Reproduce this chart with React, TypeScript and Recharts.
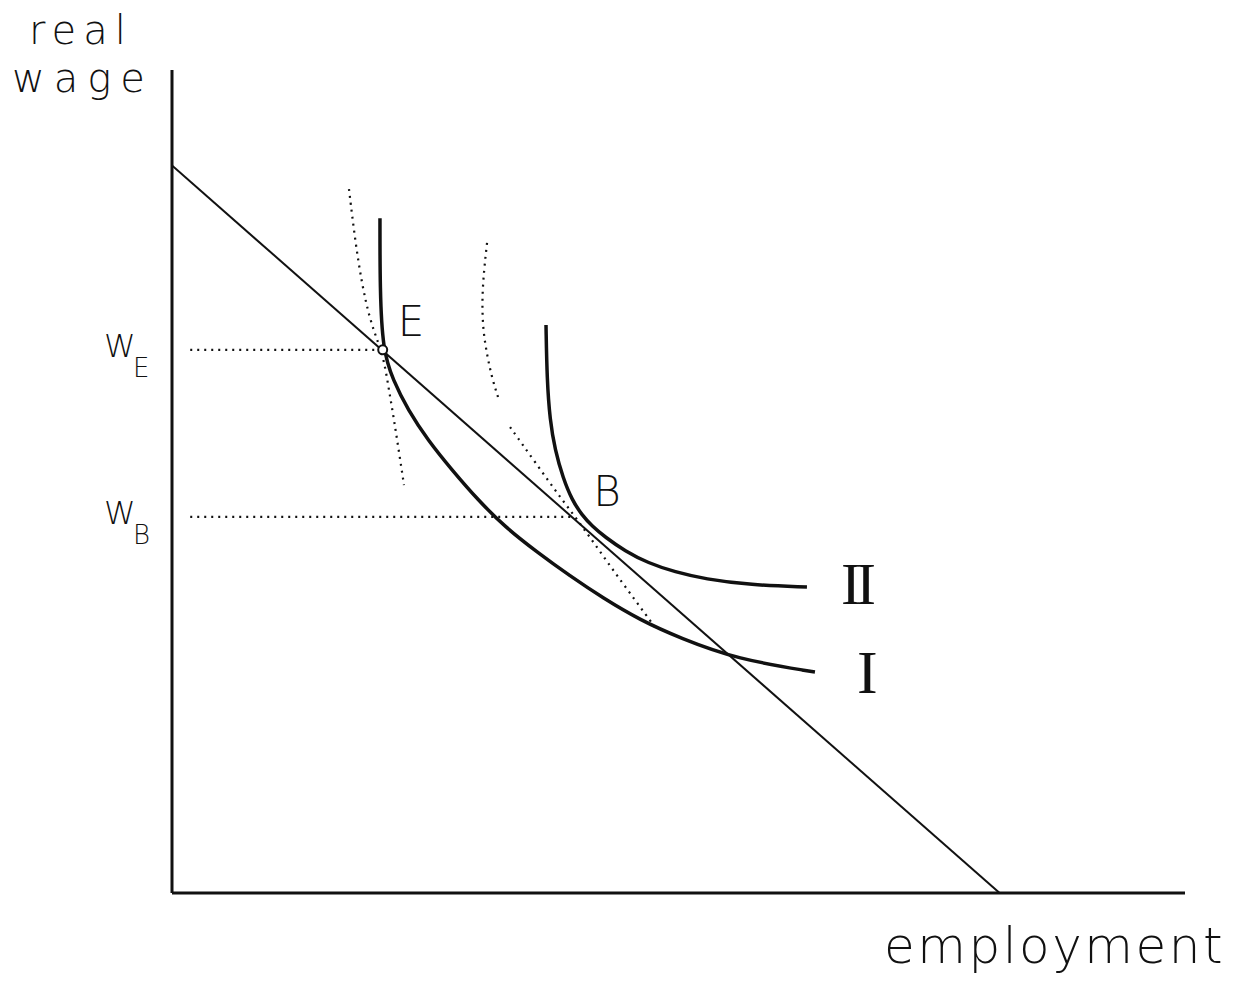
import { LineChart, Line, XAxis, YAxis, ReferenceDot, Label } from 'recharts'

// employment (x) vs real wage (y), both on a 0..100 scale
const demandLine = [
  { x: 0, y: 88.4 },
  { x: 81.7, y: 0 },
]

const curveI = [
  { x: 20.53, y: 82.0 },
  { x: 20.53, y: 73.3 },
  { x: 20.8, y: 66.0 },
  { x: 21.82, y: 62.3 },
  { x: 23.3, y: 58.7 },
  { x: 25.27, y: 55.0 },
  { x: 27.64, y: 51.4 },
  { x: 30.21, y: 47.75 },
  { x: 32.87, y: 44.47 },
  { x: 36.03, y: 41.43 },
  { x: 39.29, y: 38.52 },
  { x: 42.55, y: 35.84 },
  { x: 46.2, y: 33.17 },
  { x: 50.15, y: 30.98 },
  { x: 55.77, y: 28.4 },
  { x: 63.47, y: 26.85 },
]

const curveII = [
  { x: 36.92, y: 69.02 },
  { x: 37.02, y: 62.33 },
  { x: 37.31, y: 57.47 },
  { x: 37.81, y: 53.83 },
  { x: 38.6, y: 50.43 },
  { x: 39.49, y: 47.75 },
  { x: 40.47, y: 45.93 },
  { x: 41.46, y: 44.59 },
  { x: 42.74, y: 43.26 },
  { x: 44.72, y: 41.55 },
  { x: 46.99, y: 40.1 },
  { x: 49.65, y: 39.0 },
  { x: 52.62, y: 38.15 },
  { x: 57.06, y: 37.42 },
  { x: 62.68, y: 37.18 },
]

const dottedE = [
  { x: 17.47, y: 85.54 },
  { x: 18.07, y: 79.34 },
  { x: 18.76, y: 73.88 },
  { x: 19.55, y: 69.62 },
  { x: 20.34, y: 66.95 },
  { x: 20.93, y: 64.76 },
  { x: 21.42, y: 61.12 },
  { x: 21.92, y: 57.47 },
  { x: 22.41, y: 53.58 },
  { x: 22.9, y: 49.57 },
]

const dottedMid = [
  { x: 31.1, y: 78.98 },
  { x: 30.8, y: 75.7 },
  { x: 30.6, y: 72.05 },
  { x: 30.7, y: 68.41 },
  { x: 31.1, y: 65.37 },
  { x: 31.59, y: 62.58 },
  { x: 32.18, y: 60.27 },
]

const dottedB = [
  { x: 33.37, y: 56.62 },
  { x: 35.83, y: 52.37 },
  { x: 38.3, y: 48.12 },
  { x: 40.77, y: 44.11 },
  { x: 43.24, y: 39.73 },
  { x: 45.71, y: 35.6 },
  { x: 47.88, y: 31.96 },
]

const wE = 66.0
const wB = 45.7
const pointE = { x: 20.8, y: wE }
const pointB = { x: 39.5, y: wB }

const wageELine = [
  { x: 1.8, y: wE },
  { x: pointE.x, y: wE },
]
const wageBLine = [
  { x: 1.8, y: wB },
  { x: pointB.x, y: wB },
]

const tickNames: Record<string, string> = { [wE]: 'E', [wB]: 'B' }

const INK = '#111'
const LIGHT = '"DejaVu Sans", sans-serif'
const SERIF = '"Liberation Serif", serif'

function WageTick(props: any) {
  const { x, y, payload } = props
  return (
    <text x={x - 60} y={y + 7} fill={INK} fontFamily={LIGHT} fontWeight={200} fontSize={32}>
      W
      <tspan x={x - 31} y={y + 27} fontSize={26}>
        {tickNames[payload.value]}
      </tspan>
    </text>
  )
}

function textShape(label: string, dx: number, dy: number, font: string, size: number, spacing = 0) {
  return (p: any) => (
    <text
      x={p.cx + dx}
      y={p.cy + dy}
      fill={INK}
      fontFamily={font}
      fontSize={size}
      fontWeight={font === LIGHT ? 200 : 400}
      letterSpacing={spacing}
    >
      {label}
    </text>
  )
}

const dotted = { stroke: INK, strokeWidth: 2.2, strokeDasharray: '2 5', dot: false, isAnimationActive: false }
const solid = { stroke: INK, strokeWidth: 3.5, dot: false, isAnimationActive: false }

export default function App() {
  return (
    <div style={{ position: 'absolute', left: 0, top: 0, background: '#fff' }}>
      <LineChart width={1253} height={982} margin={{ top: 70, right: 68, bottom: 88, left: 171 }}>
        <XAxis
          type="number"
          dataKey="x"
          domain={[0, 100]}
          height={1}
          tick={false}
          tickLine={false}
          axisLine={{ stroke: INK, strokeWidth: 3 }}
          allowDataOverflow
        >
          <Label
            content={(p: any) => (
              <text
                x={p.viewBox.x + p.viewBox.width + 40}
                y={p.viewBox.y + 70}
                textAnchor="end"
                fill={INK}
                fontFamily={LIGHT}
                fontWeight={200}
                fontSize={50}
                letterSpacing={2.5}
              >
                employment
              </text>
            )}
          />
        </XAxis>
        <YAxis
          type="number"
          dataKey="y"
          domain={[0, 100]}
          width={1}
          ticks={[wB, wE]}
          tick={WageTick}
          tickLine={false}
          axisLine={{ stroke: INK, strokeWidth: 3 }}
          allowDataOverflow
        >
          <Label
            content={(p: any) => (
              <text fill={INK} fontFamily={LIGHT} fontWeight={200} fontSize={40}>
                <tspan x={p.viewBox.x - 142} y={p.viewBox.y - 26} letterSpacing={7}>real</tspan>
                <tspan x={p.viewBox.x - 159} y={p.viewBox.y + 22} letterSpacing={9}>wage</tspan>
              </text>
            )}
          />
        </YAxis>

        <Line data={wageELine} dataKey="y" type="linear" {...dotted} />
        <Line data={wageBLine} dataKey="y" type="linear" {...dotted} />
        <Line data={dottedE} dataKey="y" type="basis" {...dotted} />
        <Line data={dottedMid} dataKey="y" type="basis" {...dotted} />
        <Line data={dottedB} dataKey="y" type="basis" {...dotted} />

        <Line data={demandLine} dataKey="y" type="linear" stroke={INK} strokeWidth={2} dot={false} isAnimationActive={false} />
        <Line data={curveI} dataKey="y" type="basis" {...solid} />
        <Line data={curveII} dataKey="y" type="basis" {...solid} />

        <ReferenceDot x={pointE.x} y={pointE.y} r={4.5} fill="#fff" stroke={INK} strokeWidth={2} ifOverflow="visible" />
        <ReferenceDot x={pointE.x} y={pointE.y} r={0} ifOverflow="visible" shape={textShape('E', 15, -14, LIGHT, 42)} />
        <ReferenceDot x={pointB.x} y={pointB.y} r={0} ifOverflow="visible" shape={textShape('B', 21, -11, LIGHT, 42)} />
        <ReferenceDot
          x={curveII[curveII.length - 1].x}
          y={curveII[curveII.length - 1].y}
          r={0}
          ifOverflow="visible"
          shape={textShape('II', 34, 17, SERIF, 60, -5)}
        />
        <ReferenceDot
          x={curveI[curveI.length - 1].x}
          y={curveI[curveI.length - 1].y}
          r={0}
          ifOverflow="visible"
          shape={textShape('I', 42, 21, SERIF, 62)}
        />
      </LineChart>
    </div>
  )
}
